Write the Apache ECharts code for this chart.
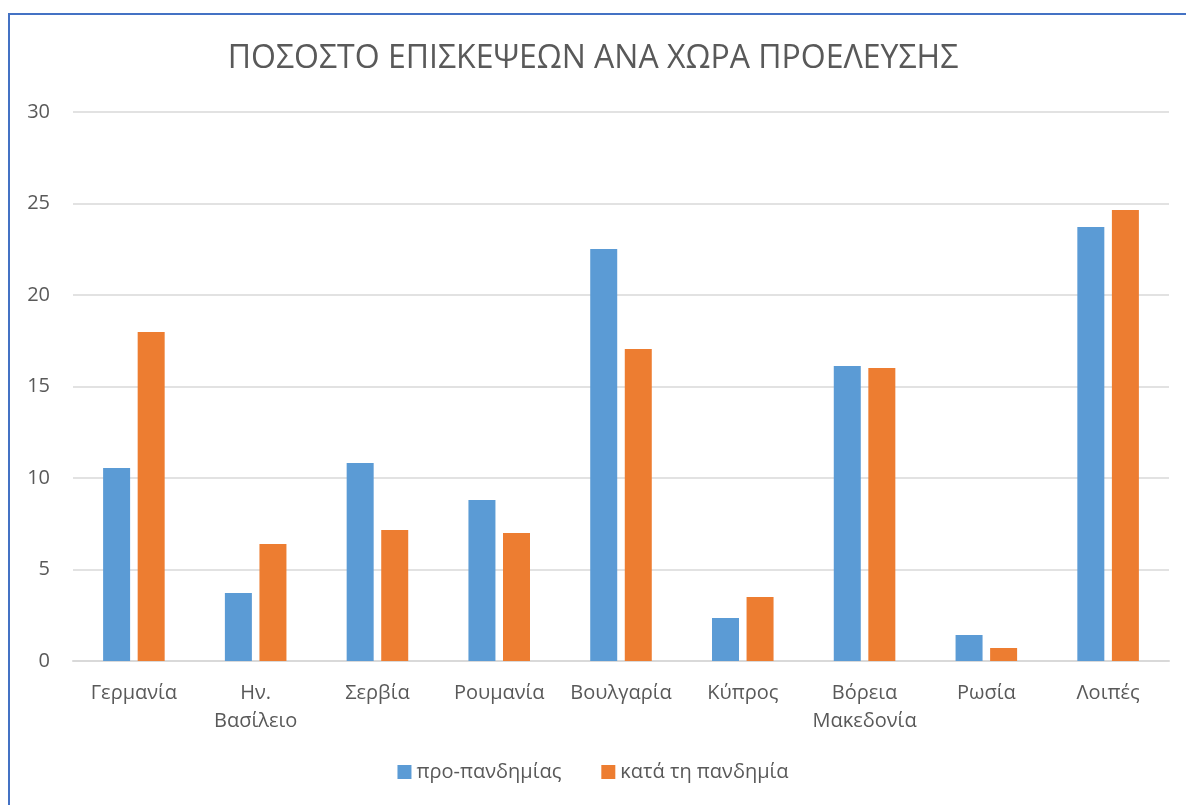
<!DOCTYPE html>
<html>
<head>
<meta charset="utf-8">
<script src="https://cdn.jsdelivr.net/npm/echarts@6/dist/echarts.min.js"></script>
<style>
html,body{margin:0;padding:0;background:#fff;overflow:hidden;}
#frame{position:absolute;left:8px;top:13px;width:1200px;height:820px;border-left:2px solid #4472c4;border-top:2px solid #4472c4;box-sizing:border-box;}
#main{position:absolute;left:0;top:0;width:1186px;height:805px;}
</style>
</head>
<body>
<div id="frame"></div>
<div id="main"></div>
<script>
var countries = ['Γερμανία', 'Ην.\nΒασίλειο', 'Σερβία', 'Ρουμανία', 'Βουλγαρία', 'Κύπρος', 'Βόρεια\nΜακεδονία', 'Ρωσία', 'Λοιπές'];
var prePandemic = [10.55, 3.72, 10.82, 8.8, 22.51, 2.35, 16.12, 1.42, 23.72];
var duringPandemic = [17.98, 6.39, 7.16, 7.0, 17.05, 3.5, 16.01, 0.71, 24.64];

var myChart = echarts.init(document.getElementById('main'));
var font = '"Open Sans", "Noto Sans", sans-serif';
var option = {
    backgroundColor: 'transparent',
    animation: false,
    title: {
        text: 'ΠΟΣΟΣΤΟ ΕΠΙΣΚΕΨΕΩΝ ΑΝΑ ΧΩΡΑ ΠΡΟΕΛΕΥΣΗΣ',
        left: 'center',
        top: 38,
        textStyle: {fontFamily: font, fontSize: 32, fontWeight: 'normal', color: '#595959'}
    },
    legend: {
        bottom: 18,
        left: 'center',
        itemWidth: 14,
        itemHeight: 14,
        itemGap: 40,
        icon: 'rect',
        textStyle: {fontFamily: font, fontSize: 20, color: '#595959'},
        data: ['προ-πανδημίας', 'κατά τη πανδημία']
    },
    grid: {left: 73, right: 17, top: 112, bottom: 144, containLabel: false},
    xAxis: {
        type: 'category',
        data: countries,
        axisLine: {lineStyle: {color: '#d9d9d9', width: 2}},
        axisTick: {show: false},
        axisLabel: {fontFamily: font, fontSize: 20, color: '#595959', margin: 18, lineHeight: 28, interval: 0}
    },
    yAxis: {
        type: 'value',
        min: 0,
        max: 30,
        interval: 5,
        axisLine: {show: false},
        axisTick: {show: false},
        splitLine: {lineStyle: {color: '#d9d9d9', width: 1.5}},
        axisLabel: {fontFamily: font, fontSize: 20, color: '#595959', margin: 23}
    },
    series: [
        {
            name: 'προ-πανδημίας',
            type: 'bar',
            data: prePandemic,
            barWidth: 27,
            barGap: '28%',
            itemStyle: {color: '#5b9bd5'}
        },
        {
            name: 'κατά τη πανδημία',
            type: 'bar',
            data: duringPandemic,
            barWidth: 27,
            barGap: '28%',
            itemStyle: {color: '#ed7d31'}
        }
    ]
};
myChart.setOption(option);
</script>
</body>
</html>
